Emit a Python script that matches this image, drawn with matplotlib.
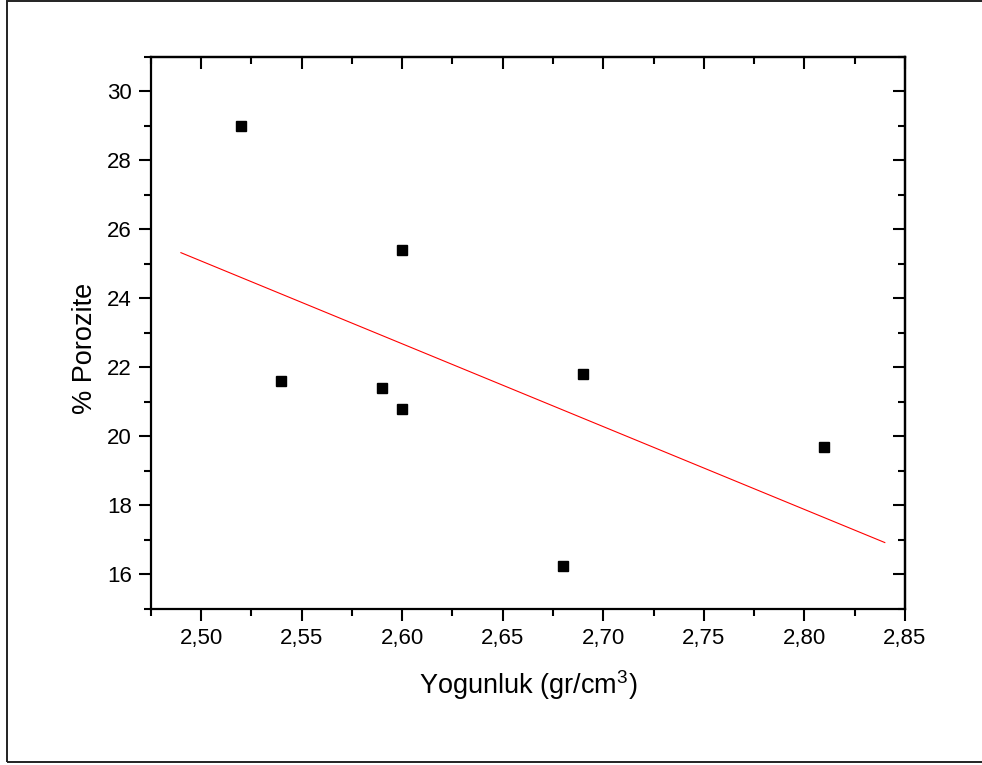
import matplotlib
matplotlib.use("Agg")
import matplotlib.pyplot as plt
import numpy as np
from matplotlib.ticker import MultipleLocator, FuncFormatter
from matplotlib.patches import Rectangle

# Density (gr/cm3) vs porosity (%)
density = np.array([2.52, 2.54, 2.59, 2.60, 2.60, 2.68, 2.69, 2.81])
porosity = np.array([29.0, 21.6, 21.4, 25.4, 20.8, 16.25, 21.8, 19.7])
fit_range = [2.49, 2.84]

plt.rcParams['font.family'] = ['Liberation Sans', 'DejaVu Sans']
plt.rcParams['mathtext.default'] = 'regular'

fig = plt.figure(figsize=(9.82, 7.65), dpi=100)
ax = fig.add_axes([0.1535, 0.2039, 0.768, 0.722])

# outer frame around the whole figure
fig.patches.append(Rectangle((0.007, 0.004), 1.05, 0.9945, transform=fig.transFigure,
                             fill=False, edgecolor='#222222', linewidth=1.4))

# linear fit
slope, intercept = np.polyfit(density, porosity, 1)
xf = np.array(fit_range)
ax.plot(xf, slope * xf + intercept, color='red', linewidth=0.8)

ax.plot(density, porosity, 's', color='black', markersize=7.5)

ax.set_xlim(2.475, 2.85)
ax.set_ylim(15, 31)

ax.xaxis.set_major_locator(MultipleLocator(0.05))
ax.xaxis.set_minor_locator(MultipleLocator(0.025))
ax.yaxis.set_major_locator(MultipleLocator(2))
ax.yaxis.set_minor_locator(MultipleLocator(1))
ax.xaxis.set_major_formatter(FuncFormatter(lambda v, p: f"{v:.2f}".replace('.', ',')))
ax.yaxis.set_major_formatter(FuncFormatter(lambda v, p: f"{v:.0f}"))

for s in ax.spines.values():
    s.set_linewidth(1.6)

ax.tick_params(which='both', direction='out', width=1.5, labelsize=16, pad=5)
ax.tick_params(which='major', length=8.6)
ax.tick_params(which='minor', length=4.7)

# top and right axes with inward ticks, no labels
top = ax.secondary_xaxis('top')
top.xaxis.set_major_locator(MultipleLocator(0.05))
top.xaxis.set_minor_locator(MultipleLocator(0.025))
right = ax.secondary_yaxis('right')
right.yaxis.set_major_locator(MultipleLocator(2))
right.yaxis.set_minor_locator(MultipleLocator(1))
for sec in (top, right):
    for s in sec.spines.values():
        s.set_linewidth(1.6)
    sec.tick_params(which='both', direction='in', width=1.5,
                    labeltop=False, labelright=False)
    sec.tick_params(which='major', length=8.6)
    sec.tick_params(which='minor', length=4.7)

ax.set_xlabel(r'Yogunluk (gr/cm$^3$)', fontsize=19.5)
ax.set_ylabel('% Porozite', fontsize=19.5)
ax.xaxis.set_label_coords(0.5, -0.107)
ax.yaxis.set_label_coords(-0.07, 0.4726)

fig.savefig('out.png', dpi=100)
